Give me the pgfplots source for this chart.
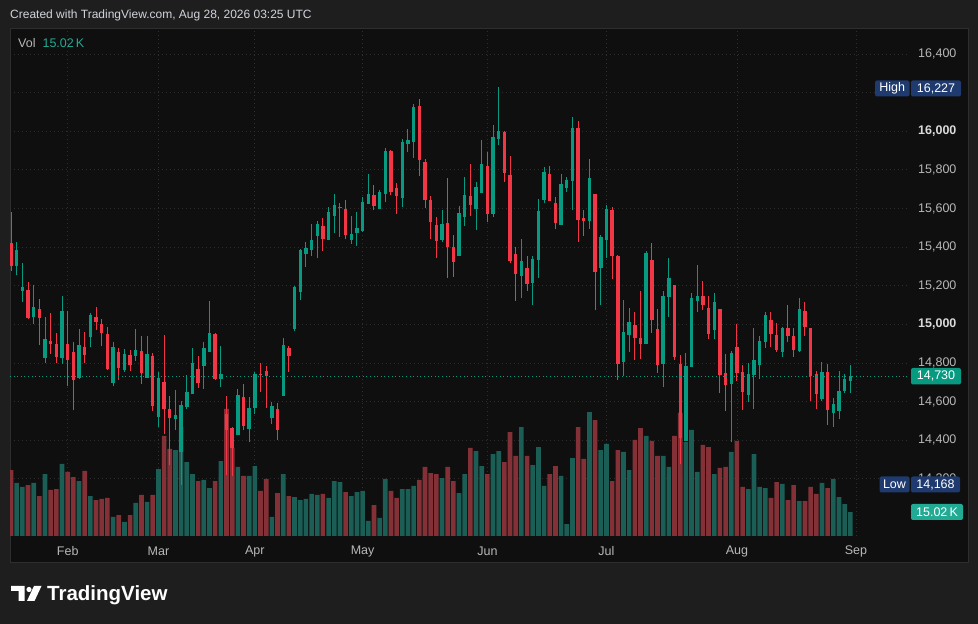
\documentclass[border=0pt]{standalone}
\usepackage{pgfplots}
\pgfplotsset{compat=1.18}
\usepackage{pgfplotstable}
\usepackage{fontspec}
\setmainfont{Liberation Sans}
\definecolor{outerbg}{HTML}{1E1E1E}
\definecolor{panebg}{HTML}{0F0F0F}
\definecolor{framec}{HTML}{2E2E2E}
\definecolor{gridc}{HTML}{2E2E2E}
\definecolor{upc}{HTML}{089981}
\definecolor{dnc}{HTML}{F23645}
\definecolor{vupc}{HTML}{1A5E55}
\definecolor{vdnc}{HTML}{833137}
\definecolor{lblc}{HTML}{B8B8B8}
\definecolor{lblb}{HTML}{DADADA}
\definecolor{navy}{HTML}{1E3A6E}
\definecolor{tealbox}{HTML}{22AB94}
\definecolor{txtc}{HTML}{D1D4DC}

% i = trading-day index, o h l c = open high low close, v = volume (K)
\pgfplotstableread{
i o h l c v
2 15302 15426 15255 15385 33.2
3 15173 15318 15116 15193 30.7
5 15038 15204 15002 15090 33.2
7 14825 15038 14800 14924 38.8
10 14825 15147 14794 15069 45.1
13 14722 14976 14717 14893 34.4
15 14934 15058 14882 15048 25.0
19 14696 14908 14680 14882 11.9
21 14763 14872 14753 14846 8.8
23 14836 14976 14811 14867 20.7
25 14722 14939 14722 14846 21.3
27 14520 14753 14468 14722 41.9
30 14509 14660 14452 14530 53.8
31 14338 14603 14168 14582 68.2
32 14572 14737 14561 14649 46.3
33 14639 14877 14639 14800 38.8
35 14784 14908 14665 14877 35.1
36 14856 15121 14856 14955 30.0
38 14717 14888 14675 14743 46.9
41 14427 14665 14427 14634 43.2
43 14458 14623 14390 14566 37.6
44 14566 14753 14535 14743 43.8
47 14514 14597 14483 14577 11.9
49 14629 14929 14629 14893 38.8
51 14976 15199 14965 15193 24.4
52 15167 15390 15126 15385 22.5
53 15364 15426 15297 15395 23.2
54 15385 15520 15354 15437 26.3
55 15457 15535 15343 15520 25.7
57 15437 15608 15437 15582 23.8
58 15561 15675 15473 15618 34.4
59 15603 15628 15452 15608 33.8
61 15437 15561 15416 15468 25.0
62 15473 15582 15406 15499 27.5
63 15483 15660 15478 15634 28.2
64 15623 15779 15623 15675 9.4
66 15597 15696 15597 15685 11.3
67 15675 15913 15634 15898 35.7
70 15654 15960 15608 15945 29.4
71 15934 16012 15893 15955 29.4
72 15945 16141 15862 16126 31.3
77 15437 15592 15426 15520 36.3
80 15354 15613 15354 15577 26.9
81 15556 15763 15509 15670 38.8
83 15597 15737 15489 15711 53.2
84 15680 15955 15680 15831 43.8
86 15572 16033 15556 15970 51.3
87 15960 16227 15929 16002 53.2
91 15250 15442 15136 15328 68.2
93 15214 15354 15100 15338 44.4
94 15333 15649 15240 15587 55.7
95 15644 15815 15628 15789 31.3
98 15514 15779 15514 15727 37.6
99 15706 15763 15685 15748 7.5
100 15742 16074 15592 16017 48.8
103 15535 15856 15494 15758 77.6
105 15292 15463 15100 15452 53.8
106 15437 15618 15343 15597 57.6
109 14805 15126 14732 14960 52.6
110 14944 15084 14856 15012 41.3
113 14898 15380 14898 15369 62.6
116 14794 15173 14675 15147 50.1
117 15142 15343 15038 15240 43.2
120 14396 14851 14396 14784 58.8
121 14779 15162 14779 15136 66.4
122 15121 15307 15064 15147 40.1
125 14970 15162 14924 15116 38.8
128 14691 14862 14390 14851 52.6
131 14634 14800 14597 14743 29.4
132 14737 14981 14561 14815 51.3
133 14789 14939 14717 14913 30.7
134 14908 15064 14877 15048 30.0
137 14856 14986 14831 14981 32.6
140 14862 15136 14856 15079 21.9
144 14613 14805 14603 14753 33.2
146 14540 14618 14468 14587 35.7
147 14551 14758 14509 14654 24.4
148 14654 14743 14644 14717 20.0
149 14706 14789 14644 14730 15.02
}\updata

\pgfplotstableread{
i o h l c v
1 15421 15582 15276 15302 41.3
4 15178 15219 15027 15033 31.9
6 15079 15131 14893 15033 25.0
8 14913 15058 14846 14898 28.8
9 14898 14955 14800 14831 29.4
11 14898 15069 14680 14815 40.1
12 14856 14908 14556 14711 36.9
14 14882 14960 14800 14841 40.7
16 15038 15090 14970 15012 22.5
17 15002 15027 14888 14955 23.2
18 14950 14986 14763 14768 23.8
20 14856 14877 14711 14774 13.1
22 14841 14867 14758 14789 13.1
24 14862 14939 14691 14748 25.7
26 14836 14851 14551 14577 25.7
28 14701 14944 14432 14561 62.6
29 14561 14629 14271 14514 54.5
34 14768 14836 14670 14696 34.4
37 14950 14955 14711 14717 34.4
39 14535 14629 14219 14452 79.5
40 14463 14468 14214 14359 55.1
42 14623 14691 14452 14473 37.6
45 14743 14800 14649 14737 28.2
46 14758 14784 14566 14732 35.7
48 14561 14592 14401 14452 26.9
50 14877 14888 14753 14836 25.0
56 15509 15551 15380 15442 26.3
60 15597 15644 15442 15463 27.5
65 15670 15722 15592 15613 19.4
68 15898 15903 15670 15685 28.2
69 15706 15732 15572 15665 23.8
73 16131 16167 15768 15851 35.1
74 15841 15856 15603 15644 43.2
75 15644 15665 15442 15530 39.4
76 15514 15556 15343 15432 38.8
78 15525 15758 15240 15401 43.2
79 15401 15463 15245 15323 34.4
82 15665 15831 15561 15618 55.1
85 15820 15893 15530 15572 38.8
88 15996 16002 15737 15784 46.3
89 15774 15872 15318 15328 65.1
90 15364 15401 15121 15261 50.1
92 15292 15354 15173 15209 50.1
96 15779 15820 15639 15639 38.8
97 15628 15660 15494 15525 43.8
101 16017 16053 15426 15540 68.2
102 15551 15592 15457 15535 48.2
104 15675 15675 15074 15271 72.6
107 15592 15608 15235 15354 34.4
108 15354 15359 14711 14794 53.8
111 14996 15064 14815 14929 60.1
112 14929 15173 14820 14898 67.6
114 15333 15421 14955 15022 59.5
115 14976 15079 14748 14789 50.1
118 15204 15204 14815 14831 62.6
119 14794 14841 14276 14411 77.0
123 15147 15224 15074 15100 57.0
124 15084 15147 14924 14950 55.7
126 15079 15079 14644 14737 42.6
127 14748 14846 14551 14685 43.2
129 14882 15002 14706 14748 59.5
130 14753 14789 14556 14649 30.7
135 15022 15064 14882 14950 23.8
136 14944 15007 14856 14867 33.8
138 14981 15100 14908 14939 22.5
139 14939 14981 14831 14867 31.9
141 15069 15116 14939 14986 21.9
142 14981 14981 14603 14732 30.7
143 14743 14758 14561 14639 26.3
145 14753 14794 14478 14556 30.0
}\dndata

\pgfplotsset{
  paneaxis/.style={scale only axis, width=897pt, height=508pt,
    at={(10pt,88pt)}, anchor=south west,
    xmin=0.8237, xmax=158.99,
    scaled x ticks=false, scaled y ticks=false,
    axis line style={draw=none}, tick style={draw=none}, major tick length=0pt},
  wick/.style={draw=none, mark=none, forget plot,
    error bars/.cd, y dir=plus, y explicit, error mark=none,
    error bar style={draw=#1, solid, line width=1pt}},
  body/.style={draw=none, mark=none, forget plot,
    error bars/.cd, y dir=plus, y explicit, error mark=none,
    error bar style={draw=#1, solid, line width=3.4pt}},
}

\begin{document}
\begin{tikzpicture}[x=1pt,y=1pt]
\fill[outerbg] (0,0) rectangle (978,624);
\fill[panebg] (10,61) rectangle (969,596);
\draw[framec, line width=1pt] (10.5,61.5) rectangle (968.5,595.5);

% grid and scales
\begin{axis}[paneaxis, ymin=13903.2, ymax=16535.1,
  ytick={14200,14400,14600,14800,15000,15200,15400,15600,15800,16000,16200,16400},
  yticklabels={{14,200},{14,400},{14,600},{14,800},{\textcolor{lblb}{\bfseries 15,000}},{15,200},{15,400},{15,600},{15,800},{\textcolor{lblb}{\bfseries 16,000}},{},{16,400}},
  yticklabel pos=right,
  yticklabel style={anchor=west, inner sep=0pt, xshift=11pt, text=lblc, font=\fontsize{12.5}{14}\selectfont},
  xtick={11,27,44,63,85,106,129,150},
  xticklabels={Feb,Mar,Apr,May,Jun,Jul,Aug,Sep},
  xticklabel style={anchor=center, inner sep=0pt, yshift=-15pt, text=lblc, font=\fontsize{12.5}{14}\selectfont},
  grid=major,
  major grid style={draw=gridc, dash pattern=on 1pt off 3pt, line width=0.8pt}]
\addplot[draw=none, forget plot] coordinates {(1,15000)};
\end{axis}

% volume
\begin{axis}[paneaxis, ymin=0, ymax=318.0, hide axis]
\addplot[ybar, bar width=0.82, bar shift=0pt, fill=vupc, draw=none] table[x=i,y=v]{\updata};
\addplot[ybar, bar width=0.82, bar shift=0pt, fill=vdnc, draw=none] table[x=i,y=v]{\dndata};
\end{axis}

% candles
\begin{axis}[paneaxis, ymin=13903.2, ymax=16535.1, hide axis]
\addplot[wick=upc] table[x=i, y=l, y error plus expr=\thisrow{h}-\thisrow{l}]{\updata};
\addplot[wick=dnc] table[x=i, y=l, y error plus expr=\thisrow{h}-\thisrow{l}]{\dndata};
\addplot[body=upc] table[x=i, y=o, y error plus expr=\thisrow{c}-\thisrow{o}]{\updata};
\addplot[body=dnc] table[x=i, y=c, y error plus expr=\thisrow{o}-\thisrow{c}]{\dndata};
\addplot[upc, line width=0.9pt, dash pattern=on 1pt off 2.6pt] coordinates {(0.8237,14730) (158.99,14730)};
\end{axis}

% header
\node[anchor=west, inner sep=0pt, text=txtc, font=\fontsize{12}{14}\selectfont] at (10,609) {Created with TradingView.com, Aug 28, 2026 03:25 UTC};
\node[anchor=west, inner sep=0pt, font=\fontsize{12.5}{14}\selectfont] at (18,581) {\textcolor{lblc}{Vol}\hspace{7pt}\textcolor{tealbox}{15.02\,K}};

% price tags
\tikzset{tag/.style={inner sep=0pt, text=white, font=\fontsize{12.5}{14}\selectfont}}
\fill[navy, rounded corners=2pt] (875,527.5) rectangle (909.5,543.5);
\fill[navy, rounded corners=2pt] (911,527.5) rectangle (961,543.5);
\node[tag] at (892.2,535.5) {High};
\node[tag] at (936,535.5) {16,227};
\fill[navy, rounded corners=2pt] (879.5,131.5) rectangle (909.5,147.5);
\fill[navy, rounded corners=2pt] (911,131.5) rectangle (960,147.5);
\node[tag] at (894.5,139.5) {Low};
\node[tag] at (935.5,139.5) {14,168};
\fill[upc, rounded corners=2pt] (911,239.5) rectangle (961,256);
\node[tag] at (936,247.7) {14,730};
\fill[tealbox, rounded corners=2pt] (911,104) rectangle (963,120);
\node[tag] at (937,112) {15.02\,K};

% logo
\fill[white] (11,38) -- (24.5,38) -- (24.5,23) -- (18.5,23) -- (18.5,33) -- (11,33) -- cycle;
\fill[white] (29,34.5) circle (2.6);
\fill[white] (34,38) -- (41.5,38) -- (34.5,23) -- (27,23) -- cycle;
\node[anchor=base west, inner sep=0pt, text=white, font=\bfseries\fontsize{20.5}{24}\selectfont] at (47,23) {TradingView};
\end{tikzpicture}
\end{document}
